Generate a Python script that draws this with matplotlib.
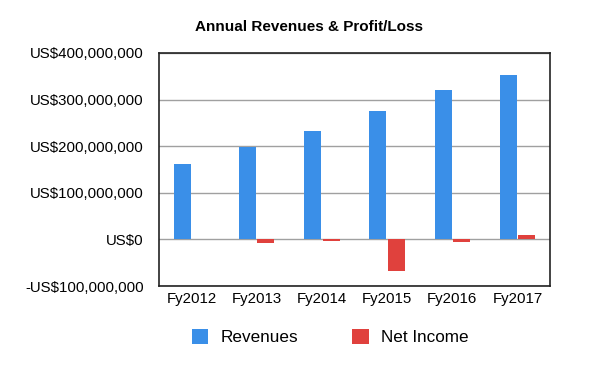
import matplotlib
matplotlib.use("Agg")
import matplotlib.pyplot as plt
import numpy as np
from matplotlib.ticker import FuncFormatter

plt.rcParams['font.family'] = ['Liberation Sans', 'DejaVu Sans']

categories = ["Fy2012", "Fy2013", "Fy2014", "Fy2015", "Fy2016", "Fy2017"]
revenues = [161e6, 199e6, 233e6, 276e6, 320e6, 352e6]
net_income = [0, -7e6, -4e6, -67e6, -5e6, 10e6]
yticks = [-100e6, 0, 100e6, 200e6, 300e6, 400e6]

blue = "#3a8fe8"
red = "#e0413d"

fig = plt.figure(figsize=(6, 3.67), dpi=100)
ax = fig.add_axes([159/600, 1-286/367, 391/600, 233/367])

x = np.arange(len(categories))
w = 0.26
off = 0.14
ax.bar(x - off, revenues, w, color=blue, label="Revenues", zorder=3)
ax.bar(x + off, net_income, w, color=red, label="Net Income", zorder=3)

ax.set_xlim(-0.5, len(categories) - 0.5)
ax.set_ylim(-100e6, 400e6)
ax.set_yticks(yticks)

def fmt(v, pos):
    v = int(round(v))
    if v < 0:
        return "-US${:,}".format(-v)
    return "US${:,}".format(v)

ax.yaxis.set_major_formatter(FuncFormatter(fmt))
ax.set_xticks(x)
ax.set_xticklabels(categories)
ax.tick_params(axis='both', length=0, labelsize=10.8, colors='black')
ax.tick_params(axis='y', pad=11)
ax.tick_params(axis='x', pad=4)
ax.yaxis.grid(True, color='#a0a0a0', linewidth=1, zorder=0)
for s in ax.spines.values():
    s.set_color('#222222')
    s.set_linewidth(1.2)

fig.text(309/600, 1-27/367, "Annual Revenues & Profit/Loss", ha='center', va='center',
         fontsize=11, fontweight='bold')

fig.legend(loc='center left', bbox_to_anchor=(192/600, 1-337/367), ncol=2, frameon=False,
           fontsize=12.3, handlelength=0.95, handleheight=0.95, handletextpad=0.7,
           columnspacing=3.2, borderpad=0, borderaxespad=0)

fig.savefig("out.png", dpi=100, facecolor='white')
